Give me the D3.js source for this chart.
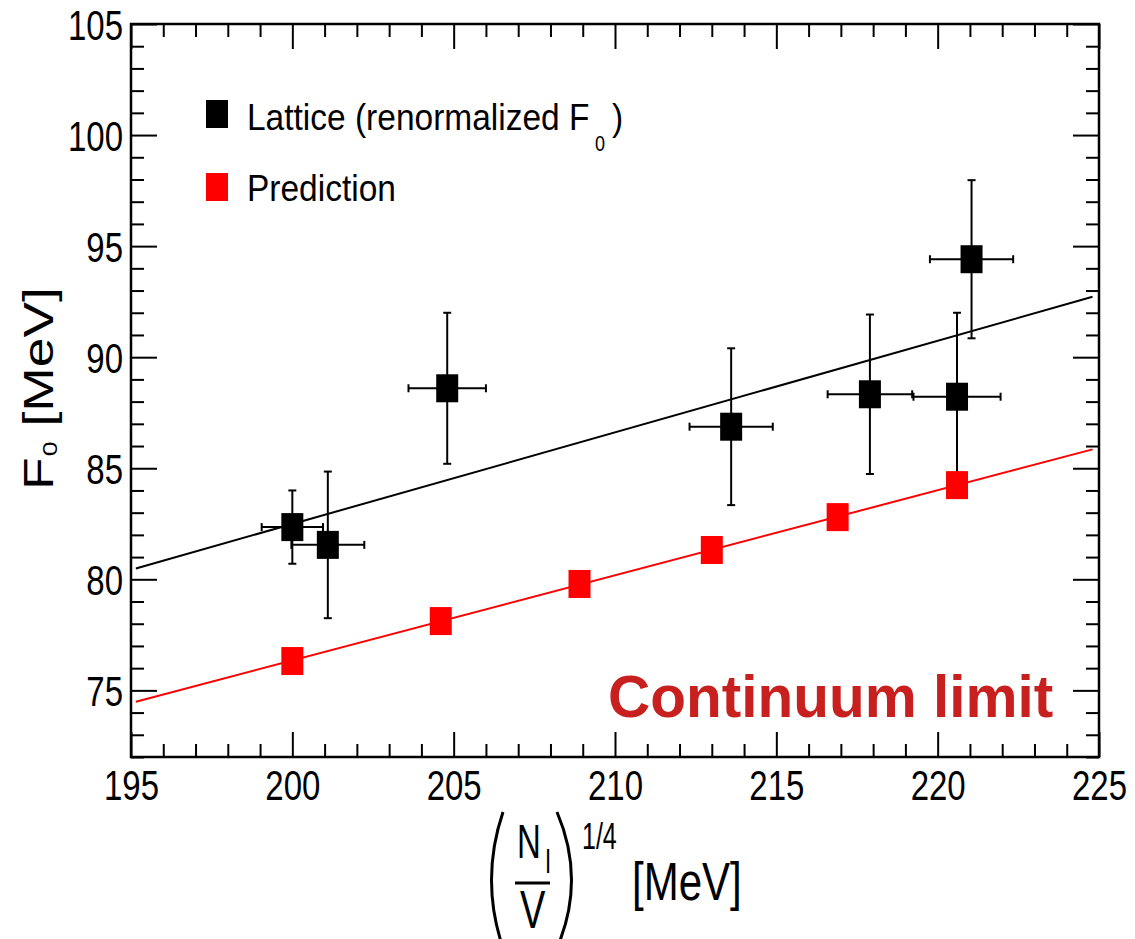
<!DOCTYPE html>
<html>
<head>
<meta charset="utf-8">
<script src="https://cdn.jsdelivr.net/npm/d3@7"></script>
<style>
  body { margin: 0; background: #fff; }
  svg { display: block; }
</style>
</head>
<body>
<script>
// lattice points (renormalized F0)
var latticeX = [200.0, 201.1, 204.8, 213.6, 217.9, 220.6, 221.05];
var latticeY = [82.35, 81.55, 88.6, 86.87, 88.33, 88.22, 94.41];
var latticeXErr = [0.95, 1.13, 1.2, 1.29, 1.31, 1.35, 1.29];
var latticeYErr = [1.65, 3.3, 3.4, 3.53, 3.59, 3.78, 3.56];

// prediction points
var predX = [200.0, 204.6, 208.9, 213.0, 216.9, 220.6];
var predY = [76.32, 78.12, 79.79, 81.32, 82.8, 84.24];

// straight fits, end points
var fitX = [195.15, 224.8];
var latticeFit = [80.49, 92.72];
var predFit = [74.49, 85.85];

var xMajor = [195, 200, 205, 210, 215, 220, 225];
var yMajor = [75, 80, 85, 90, 95, 100, 105];

var width = 1135, height = 939;
var plotL = 131, plotR = 1099, plotT = 24, plotB = 757;
var font = "'Liberation Sans', Arial, Helvetica, sans-serif";

var svg = d3.select("body").append("svg")
  .attr("width", width)
  .attr("height", height);

svg.append("rect")
  .attr("width", width).attr("height", height).attr("fill", "white");

var x = d3.scaleLinear().domain([195, 225]).range([plotL, plotR]);
var y = d3.scaleLinear().domain([72, 105]).range([plotB, plotT]);

var xMinor = d3.range(195, 226, 1).filter(function(v){ return v % 5 != 0; });
var yMinor = d3.range(72, 106, 1).filter(function(v){ return v % 5 != 0; });

function styleAxis(g) {
  g.select(".domain").remove();
  g.selectAll("line").attr("stroke", "#000").attr("stroke-width", 2);
  g.attr("font-family", font).attr("font-size", 33);
}

// bottom
var gb = svg.append("g").attr("transform", "translate(0," + plotB + ")")
  .call(d3.axisBottom(x).tickValues(xMajor).tickSize(-25).tickFormat(d3.format("d")));
styleAxis(gb);
gb.selectAll("text")
  .attr("y", null).attr("dy", null)
  .attr("transform", "translate(0,43) scale(1,1.27)")
  .attr("fill", "#000");
svg.append("g").attr("transform", "translate(0," + plotB + ")")
  .call(d3.axisBottom(x).tickValues(xMinor).tickSize(-13).tickFormat(""))
  .call(styleAxis);

// top
svg.append("g").attr("transform", "translate(0," + plotT + ")")
  .call(d3.axisTop(x).tickValues(xMajor).tickSize(-25).tickFormat(""))
  .call(styleAxis);
svg.append("g").attr("transform", "translate(0," + plotT + ")")
  .call(d3.axisTop(x).tickValues(xMinor).tickSize(-13).tickFormat(""))
  .call(styleAxis);

// left
var gl = svg.append("g").attr("transform", "translate(" + plotL + ",0)")
  .call(d3.axisLeft(y).tickValues(yMajor).tickSize(-26).tickFormat(d3.format("d")));
styleAxis(gl);
gl.selectAll("text")
  .attr("x", null).attr("dy", null)
  .attr("text-anchor", "end")
  .attr("transform", "translate(-8,15) scale(1,1.27)")
  .attr("fill", "#000");
svg.append("g").attr("transform", "translate(" + plotL + ",0)")
  .call(d3.axisLeft(y).tickValues(yMinor).tickSize(-13).tickFormat(""))
  .call(styleAxis);

// right
svg.append("g").attr("transform", "translate(" + plotR + ",0)")
  .call(d3.axisRight(y).tickValues(yMajor).tickSize(-26).tickFormat(""))
  .call(styleAxis);
svg.append("g").attr("transform", "translate(" + plotR + ",0)")
  .call(d3.axisRight(y).tickValues(yMinor).tickSize(-13).tickFormat(""))
  .call(styleAxis);

// frame
svg.append("rect")
  .attr("x", plotL).attr("y", plotT)
  .attr("width", plotR - plotL).attr("height", plotB - plotT)
  .attr("fill", "none").attr("stroke", "#000").attr("stroke-width", 2.5);

// fit lines
var line = d3.line()
  .x(function(d){ return x(d[0]); })
  .y(function(d){ return y(d[1]); });

svg.append("path")
  .datum(fitX.map(function(v, i){ return [v, latticeFit[i]]; }))
  .attr("d", line).attr("fill", "none").attr("stroke", "#000").attr("stroke-width", 2);
svg.append("path")
  .datum(fitX.map(function(v, i){ return [v, predFit[i]]; }))
  .attr("d", line).attr("fill", "none").attr("stroke", "#ff0000").attr("stroke-width", 2);

// lattice error bars
var lattice = latticeX.map(function(v, i){
  return { x: v, y: latticeY[i], ex: latticeXErr[i], ey: latticeYErr[i] };
});
var cap = 4;
var eb = svg.append("g").attr("stroke", "#000").attr("stroke-width", 2);
lattice.forEach(function(d){
  eb.append("line")
    .attr("x1", x(d.x)).attr("x2", x(d.x))
    .attr("y1", y(d.y - d.ey)).attr("y2", y(d.y + d.ey));
  eb.append("line")
    .attr("x1", x(d.x - d.ex)).attr("x2", x(d.x + d.ex))
    .attr("y1", y(d.y)).attr("y2", y(d.y));
  [d.y - d.ey, d.y + d.ey].forEach(function(v){
    eb.append("line")
      .attr("x1", x(d.x) - cap).attr("x2", x(d.x) + cap)
      .attr("y1", y(v)).attr("y2", y(v));
  });
  [d.x - d.ex, d.x + d.ex].forEach(function(v){
    eb.append("line")
      .attr("x1", x(v)).attr("x2", x(v))
      .attr("y1", y(d.y) - cap).attr("y2", y(d.y) + cap);
  });
});

var mw = 22, mh = 28;
svg.selectAll(".lat")
  .data(lattice)
  .enter()
  .append("rect")
  .attr("class", "lat")
  .attr("x", function(d){ return x(d.x) - mw / 2; })
  .attr("y", function(d){ return y(d.y) - mh / 2; })
  .attr("width", mw).attr("height", mh)
  .attr("fill", "#000");

svg.selectAll(".pred")
  .data(predX.map(function(v, i){ return { x: v, y: predY[i] }; }))
  .enter()
  .append("rect")
  .attr("class", "pred")
  .attr("x", function(d){ return x(d.x) - mw / 2; })
  .attr("y", function(d){ return y(d.y) - mh / 2; })
  .attr("width", mw).attr("height", mh)
  .attr("fill", "#ff0000");

// legend
function stretchText(tx, ty, sy, size, txt) {
  return svg.append("text")
    .attr("transform", "translate(" + tx + "," + ty + ") scale(1," + sy + ")")
    .attr("font-family", font).attr("font-size", size)
    .attr("fill", "#000")
    .text(txt);
}
svg.append("rect").attr("x", 206).attr("y", 100).attr("width", 22).attr("height", 28).attr("fill", "#000");
svg.append("rect").attr("x", 206).attr("y", 173).attr("width", 22).attr("height", 28).attr("fill", "#ff0000");
stretchText(247, 130, 1.11, 33.5, "Lattice (renormalized F");
stretchText(595, 151, 1.2, 18, "0");
stretchText(612, 130, 1.11, 33.5, ")");
stretchText(247, 201, 1.11, 33.5, "Prediction");

// continuum label
svg.append("text")
  .attr("x", 608).attr("y", 717)
  .attr("font-family", font).attr("font-weight", "bold").attr("font-size", 58.5)
  .attr("fill", "#c8201e")
  .text("Continuum limit");

// y title
var yt = svg.append("text")
  .attr("transform", "translate(53,490) rotate(-90) scale(1.27,1)")
  .attr("font-family", font).attr("font-size", 42).attr("fill", "#000");
yt.append("tspan").text("F");
yt.append("tspan").attr("font-size", 21).attr("dy", 4).attr("dx", 1).text("0");
yt.append("tspan").attr("dy", -4).text(" [MeV]");

// x title
svg.append("path")
  .attr("d", "M503,812 Q480,880 503,948")
  .attr("fill", "none").attr("stroke", "#000").attr("stroke-width", 3);
svg.append("path")
  .attr("d", "M557,812 Q586,880 557,948")
  .attr("fill", "none").attr("stroke", "#000").attr("stroke-width", 3);
stretchText(517, 858, 1.45, 33, "N");
stretchText(545, 873, 1.6, 22, "I");
svg.append("line")
  .attr("x1", 515).attr("x2", 550).attr("y1", 883).attr("y2", 883)
  .attr("stroke", "#000").attr("stroke-width", 3);
stretchText(520, 928, 1.4, 38, "V");
stretchText(582, 849, 1.5, 25, "1/4");
stretchText(632, 900, 1.27, 42, "[MeV]");
</script>
</body>
</html>
